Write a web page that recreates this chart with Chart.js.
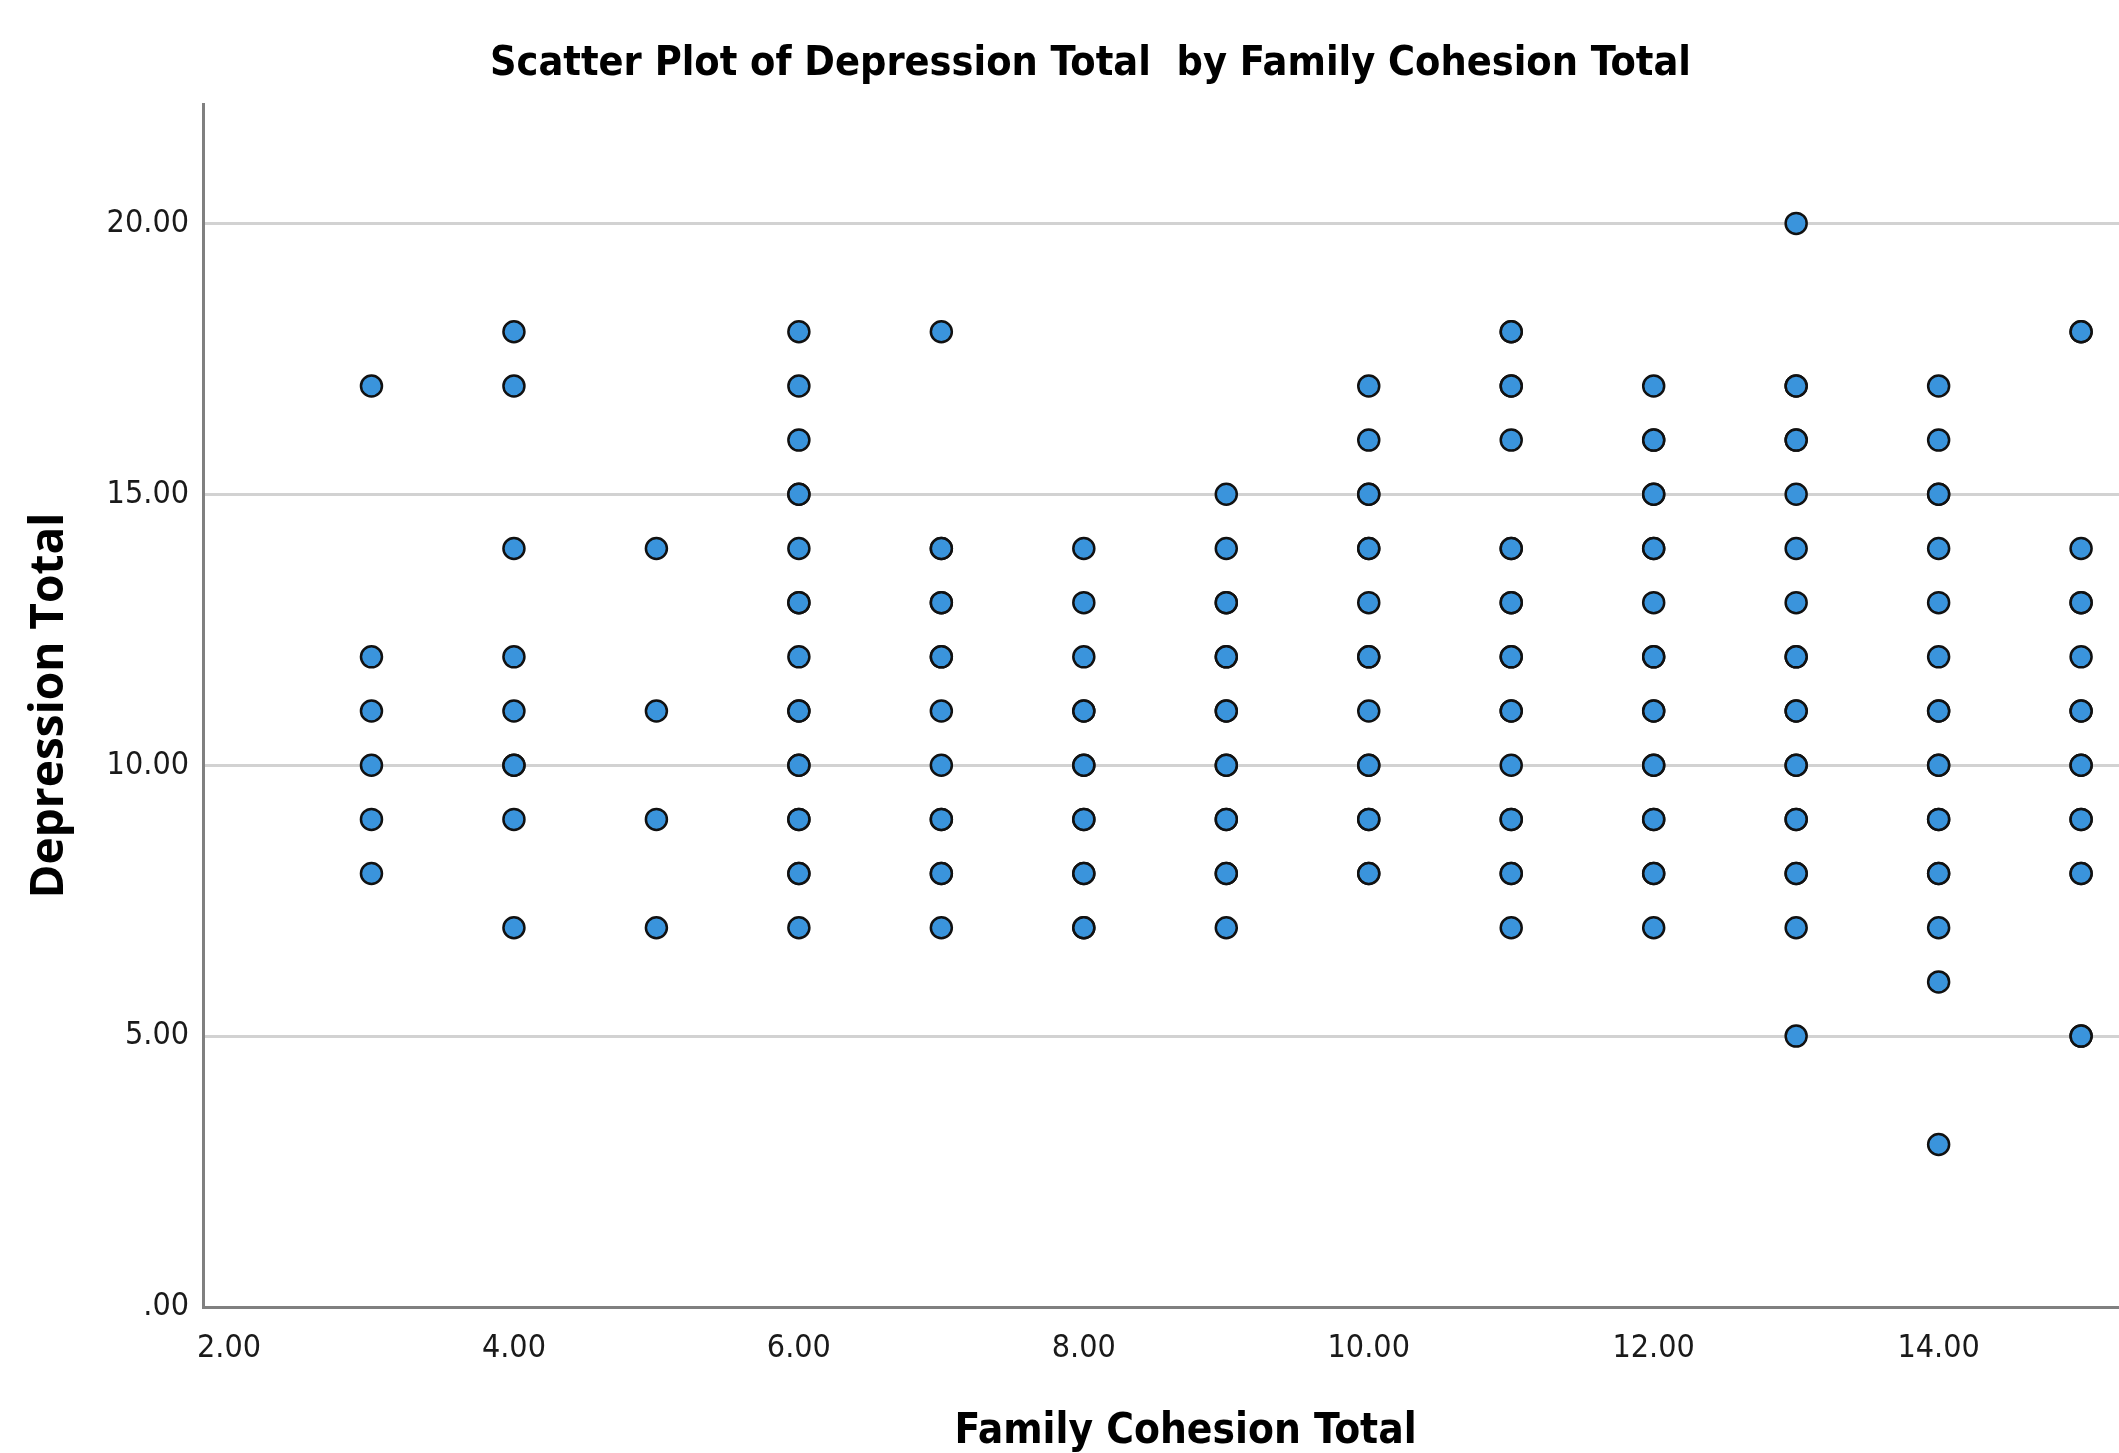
<!DOCTYPE html>
<html>
    <head>
        <title>Scatter Plot of Depression Total by Family Cohesion Total</title>
        <script src="https://cdn.jsdelivr.net/npm/chart.js"></script>
        <style>
          body { margin: 0; overflow: hidden; background: #fff; }
        </style>
    </head>
    <body>
        <canvas id="myChart" width="2181" height="1453"></canvas>

        <script>
          // Family Cohesion Total levels, and the Depression Total values seen at each one
          // (values listed twice are the darker, overlapping dots)
          const cohesionLevels = [3, 4, 5, 6, 7, 8, 9, 10, 11, 12, 13, 14, 15];
          const dep3  = [17, 12, 11, 10, 9, 8];
          const dep4  = [18, 17, 14, 12, 11, 10, 10, 9, 7];
          const dep5  = [14, 11, 9, 7];
          const dep6  = [18, 17, 16, 15, 15, 14, 13, 13, 12, 11, 11, 10, 10, 9, 9, 8, 8, 7];
          const dep7  = [18, 14, 14, 13, 13, 12, 12, 11, 10, 9, 9, 8, 8, 7];
          const dep8  = [14, 13, 12, 11, 11, 10, 10, 9, 9, 8, 8, 7, 7];
          const dep9  = [15, 14, 13, 13, 12, 12, 11, 11, 10, 10, 9, 9, 8, 8, 7];
          const dep10 = [17, 16, 15, 15, 14, 14, 13, 12, 12, 11, 10, 10, 9, 9, 8, 8];
          const dep11 = [18, 18, 17, 17, 16, 14, 14, 13, 13, 12, 12, 11, 11, 10, 9, 9, 8, 8, 7];
          const dep12 = [17, 16, 16, 15, 15, 14, 14, 13, 12, 12, 11, 11, 10, 10, 9, 9, 8, 8, 7];
          const dep13 = [20, 17, 17, 16, 16, 15, 14, 13, 12, 12, 11, 11, 10, 10, 9, 9, 8, 8, 7, 5];
          const dep14 = [17, 16, 15, 15, 14, 13, 12, 11, 11, 10, 10, 9, 9, 8, 8, 7, 6, 3];
          const dep15 = [18, 18, 14, 13, 13, 12, 11, 11, 10, 10, 9, 9, 8, 8, 5, 5];
          const depressionColumns = [dep3, dep4, dep5, dep6, dep7, dep8, dep9, dep10, dep11, dep12, dep13, dep14, dep15];

          const xTickValues = [2, 4, 6, 8, 10, 12, 14];
          const yTickValues = [0, 5, 10, 15, 20];

          const condensed = "'Liberation Sans Narrow', 'DejaVu Sans Condensed', sans-serif";

          const points = [];
          cohesionLevels.forEach((x, i) => {
            depressionColumns[i].forEach(y => points.push({x: x, y: y}));
          });

          function fmt(v){
            return v === 0 ? '.00' : v.toFixed(2);
          }

          const ctx = document.getElementById('myChart');
          new Chart(ctx, {
            type: 'scatter',
            data: {
              datasets: [{
                label: 'Depression Total',
                data: points,
                backgroundColor: '#3a94dc',
                borderColor: '#111',
                borderWidth: 2.5,
                pointRadius: 10.5,
                pointHoverRadius: 10.5
              }]
            },
            options: {
              responsive: false,
              animation: false,
              layout: { padding: 0 },
              plugins: {
                legend: { display: false },
                tooltip: { enabled: false },
                title: {
                  display: true,
                  text: 'Scatter Plot of Depression Total  by Family Cohesion Total',
                  color: '#000',
                  font: { family: condensed, size: 41, weight: 'bold', lineHeight: 1.2 },
                  padding: { top: 40, bottom: 15 }
                }
              },
              scales: {
                x: {
                  type: 'linear',
                  min: 1.8175,
                  max: 15.61,
                  afterBuildTicks: s => { s.ticks = xTickValues.map(v => ({value: v})); },
                  afterFit: s => { s.height = 146; },
                  grid: { display: false, drawTicks: false },
                  border: { display: true, color: '#808080', width: 3 },
                  ticks: {
                    color: '#1a1a1a',
                    padding: 22,
                    maxRotation: 0,
                    font: { family: condensed, size: 32 },
                    callback: v => fmt(v)
                  },
                  title: {
                    display: true,
                    text: 'Family Cohesion Total',
                    color: '#000',
                    font: { family: condensed, size: 42, weight: 'bold', lineHeight: 1.0 },
                    padding: { top: 0, bottom: 0 }
                  }
                },
                y: {
                  type: 'linear',
                  min: 0,
                  max: 22.2,
                  afterBuildTicks: s => { s.ticks = yTickValues.map(v => ({value: v})); },
                  afterFit: s => { s.width = 203; },
                  grid: {
                    color: ctx => ctx.tick && ctx.tick.value === 0 ? 'rgba(0,0,0,0)' : '#d2d2d2',
                    lineWidth: 3,
                    drawTicks: false
                  },
                  border: { display: true, color: '#808080', width: 3 },
                  ticks: {
                    color: '#1a1a1a',
                    padding: 14,
                    font: { family: condensed, size: 32 },
                    callback: v => fmt(v)
                  },
                  title: {
                    display: true,
                    text: 'Depression Total',
                    color: '#000',
                    font: { family: "'Open Sans', 'Noto Sans', sans-serif", size: 46, weight: 'bold', lineHeight: 1.2 },
                    padding: { top: 22, bottom: 0 }
                  }
                }
              }
            }
          });
        </script>
    </body>
</html>
